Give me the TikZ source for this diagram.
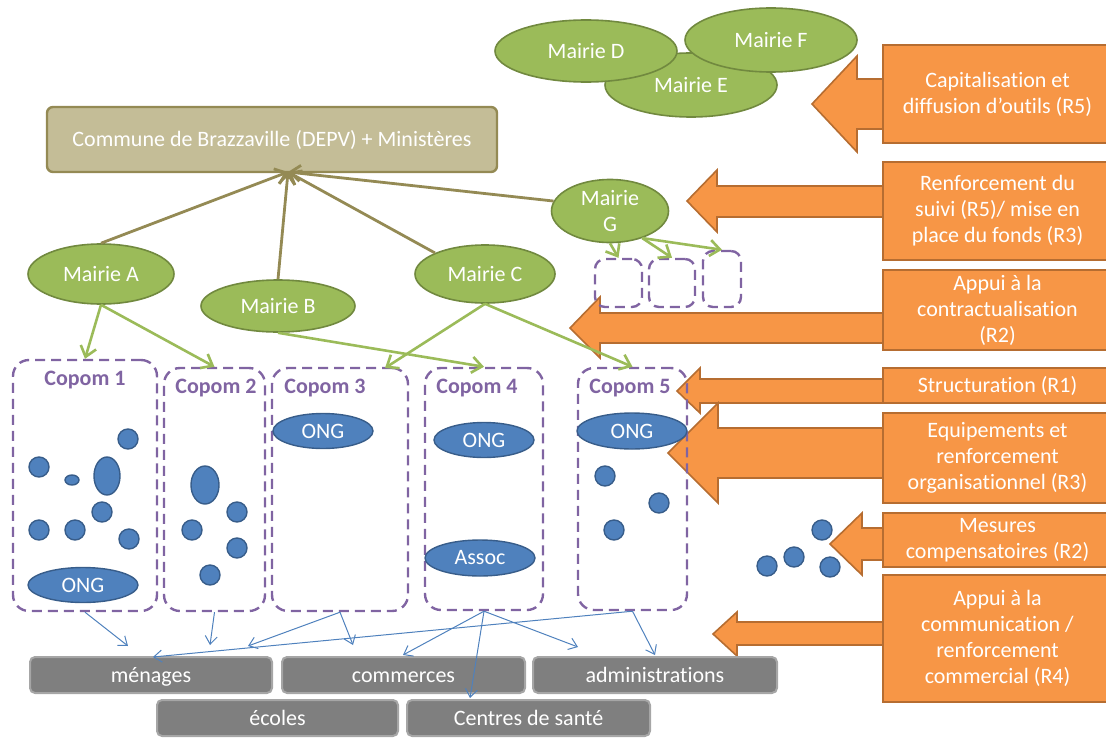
\documentclass[tikz,border=0pt]{standalone}
\usepackage{fontspec}
\setmainfont{Carlito}[Ligatures={TeX,NoCommon}]
\usepackage{xcolor}
\usetikzlibrary{shapes,arrows.meta,positioning,calc}

\definecolor{mairiegreen}{HTML}{9BBB59}
\definecolor{mairieline}{HTML}{71893F}
\definecolor{communefill}{HTML}{C4BD97}
\definecolor{communeline}{HTML}{948A54}
\definecolor{copompurple}{HTML}{8064A2}
\definecolor{blobblue}{HTML}{4F81BD}
\definecolor{blobline}{HTML}{385D8A}
\definecolor{actorgrey}{HTML}{7F7F7F}
\definecolor{actorline}{HTML}{A6A6A6}
\definecolor{actionorange}{HTML}{F79646}
\definecolor{actionline}{HTML}{B66D31}

\begin{document}
\begin{tikzpicture}[x=0.5pt, y=-0.5pt, font=\fontsize{11}{13}\selectfont,
    mairie/.style={ellipse, draw=mairieline, line width=0.8pt, fill=mairiegreen, text=white, inner sep=0pt, align=center},
    copom/.style={draw=copompurple, line width=1.2pt, dash pattern=on 5pt off 3pt, rounded corners=8pt, inner sep=0pt},
    copomlabel/.style={text=copompurple, font=\fontsize{11}{13}\selectfont\bfseries},
    blob/.style={ellipse, draw=blobline, line width=0.7pt, fill=blobblue, inner sep=0pt, text=white},
    actor/.style={draw=actorline, line width=1pt, fill=actorgrey, rounded corners=2.5pt, text=white, inner sep=0pt, minimum height=18pt, text height=1.8ex, text depth=0.3ex},
    action/.style={draw=actionline, line width=0.8pt, fill=actionorange, text=white, align=center, inner sep=0pt, minimum width=114.5pt},
    blockarrow/.style={draw=actionline, line width=0.8pt, fill=actionorange},
    greenarrow/.style={-{Straight Barb[length=5pt,width=8pt]}, mairiegreen, line width=1.3pt},
    brownarrow/.style={-{Straight Barb[length=5pt,width=8pt]}, communeline, line width=1.4pt},
    bluearrow/.style={-{Straight Barb[length=4pt,width=6pt]}, blobblue, line width=0.5pt}]
    \useasboundingbox (0,0) rectangle (1106,738);

    % Actions (block arrows)
    \draw[blockarrow] (812,104) -- (857,56) -- (857,79) -- (890,79) -- (890,129) -- (857,129) -- (857,152) -- cycle;
    \draw[blockarrow] (687,201) -- (717,170) -- (717,186) -- (890,186) -- (890,217) -- (717,217) -- (717,232) -- cycle;
    \draw[blockarrow] (570,328) -- (600,297) -- (600,313) -- (890,313) -- (890,343) -- (600,343) -- (600,358) -- cycle;
    \draw[blockarrow] (677,391) -- (700,368) -- (700,379) -- (890,379) -- (890,403) -- (700,403) -- (700,413) -- cycle;
    \draw[blockarrow] (668,453) -- (718,403) -- (718,428) -- (890,428) -- (890,478) -- (718,478) -- (718,503) -- cycle;
    \draw[blockarrow] (830,544) -- (862,513) -- (862,528) -- (890,528) -- (890,560) -- (862,560) -- (862,575) -- cycle;
    \draw[blockarrow] (713,634) -- (737,612) -- (737,622) -- (890,622) -- (890,645) -- (737,645) -- (737,656) -- cycle;

    \node[action, minimum height=49pt] (r5) at (997.5,94) {Capitalisation et\\diffusion d’outils (R5)};
    \node[action, minimum height=49pt] (suivi) at (997.5,211) {Renforcement du\\suivi (R5)/ mise en\\place du fonds (R3)};
    \node[action, minimum height=40pt] (contrat) at (997.5,310) {Appui à la\\contractualisation\\(R2)};
    \node[action, minimum height=17.5pt] (struct) at (997.5,385.5) {Structuration (R1)};
    \node[action, minimum height=45pt] (equip) at (997.5,458) {Equipements et\\renforcement\\organisationnel (R3)};
    \node[action, minimum height=27pt] (mesures) at (997.5,540) {Mesures\\compensatoires (R2)};
    \node[action, minimum height=63.5pt] (comm) at (997.5,638.5) {Appui à la\\communication /\\renforcement\\commercial (R4)};

    % Commune
    \node[draw=communeline, line width=1.2pt, fill=communefill, rounded corners=3pt, text=white, minimum width=225pt, minimum height=32.5pt] (commune) at (272,139.5) {Commune de Brazzaville (DEPV) + Ministères};
    \coordinate (hub) at (288,172);

    % Mairies
    \node[mairie, minimum width=86pt, minimum height=32pt] (mE) at (691,85) {Mairie E};
    \node[mairie, minimum width=91pt, minimum height=31pt] (mD) at (586,51) {Mairie D};
    \node[mairie, minimum width=86pt, minimum height=32pt] (mF) at (771,40) {Mairie F};
    \node[mairie, minimum width=73pt, minimum height=30pt] (mA) at (101,274) {Mairie A};
    \node[mairie, minimum width=77pt, minimum height=26pt] (mB) at (278,306) {Mairie B};
    \node[mairie, minimum width=70pt, minimum height=29pt] (mC) at (485,274) {Mairie C};
    \node[mairie, minimum width=58.5pt, minimum height=31.5pt] (mG) at (610,211) {Mairie\\G};

    \draw[brownarrow] (mA.north) -- (hub);
    \draw[brownarrow] (mB.north) -- (hub);
    \draw[brownarrow] (mC.north west) -- (hub);
    \draw[brownarrow] (mG.170) -- (hub);

    % Copoms
    \node[copom, minimum width=72pt, minimum height=125.5pt] (c1) at (85,485.5) {};
    \node[copom, minimum width=50.5pt, minimum height=121.5pt] (c2) at (214.5,489.5) {};
    \node[copom, minimum width=68pt, minimum height=121.5pt] (c3) at (340,489.5) {};
    \node[copom, minimum width=59pt, minimum height=121pt] (c4) at (484,489) {};
    \node[copom, minimum width=54.5pt, minimum height=121pt] (c5) at (632.5,489) {};
    \node[copomlabel] (l1) at (85,380) {Copom 1};
    \node[copomlabel] (l2) at (216,388) {Copom 2};
    \node[copomlabel] (l3) at (325,388) {Copom 3};
    \node[copomlabel] (l4) at (477,388) {Copom 4};
    \node[copomlabel] (l5) at (630,388) {Copom 5};

    % small copoms of Mairie G
    \node[copom, rounded corners=5pt, minimum width=23.5pt, minimum height=24pt] (g1) at (618.5,283) {};
    \node[copom, rounded corners=5pt, minimum width=23pt, minimum height=24pt] (g2) at (672,283) {};
    \node[copom, rounded corners=5pt, minimum width=19pt, minimum height=28pt] (g3) at (722,279) {};

    % Members
    \node[blob, minimum size=10pt] (p11) at (128,439) {};
    \node[blob, minimum size=10pt] (p12) at (39,467) {};
    \node[blob, minimum width=7pt, minimum height=5pt] (p13) at (72,480) {};
    \node[blob, minimum width=13pt, minimum height=19pt] (p14) at (107,476) {};
    \node[blob, minimum size=10pt] (p15) at (102,512) {};
    \node[blob, minimum size=10pt] (p16) at (39,530) {};
    \node[blob, minimum size=10pt] (p17) at (75,530) {};
    \node[blob, minimum size=10pt] (p18) at (129,539) {};
    \node[blob, minimum width=55pt, minimum height=17.5pt] (ong1) at (83,585) {ONG};

    \node[blob, minimum width=14pt, minimum height=19pt] (p21) at (205,485) {};
    \node[blob, minimum size=10pt] (p22) at (237,512) {};
    \node[blob, minimum size=10pt] (p23) at (192,530) {};
    \node[blob, minimum size=10pt] (p24) at (237,548) {};
    \node[blob, minimum size=10pt] (p25) at (210,575) {};

    \node[blob, minimum width=50pt, minimum height=17.5pt] (ong3) at (323,431) {ONG};
    \node[blob, minimum width=50pt, minimum height=17.5pt] (ong4) at (484,440) {ONG};
    \node[blob, minimum width=55pt, minimum height=18pt] (assoc) at (480,558) {Assoc};

    \node[blob, minimum width=55pt, minimum height=18pt] (ong5) at (632,431) {ONG};
    \node[blob, minimum size=10pt] (p51) at (605,476) {};
    \node[blob, minimum size=10pt] (p52) at (659,503) {};
    \node[blob, minimum size=10pt] (p53) at (614,530) {};

    \node[blob, minimum size=10pt] (q1) at (767,566) {};
    \node[blob, minimum size=10pt] (q2) at (794,557) {};
    \node[blob, minimum size=10pt] (q3) at (822,530) {};
    \node[blob, minimum size=10pt] (q4) at (830,567) {};

    % Mairies to Copoms
    \coordinate (c3in) at (385,368);
    \draw[greenarrow] (mA.south) -- (c1.north);
    \draw[greenarrow] (mA.south) -- (c2.north);
    \draw[greenarrow] (mB.south) -- (c4.north);
    \draw[greenarrow] (mC.south) -- (c3in);
    \draw[greenarrow] (mC.south) -- (c5.north);
    \draw[greenarrow] (mG.south) -- (g1.north);
    \draw[greenarrow] (mG.-40) -- (g2.north);
    \draw[greenarrow] (mG.-40) -- (g3.north);

    % Beneficiaries
    \node[actor, minimum width=121pt] (menages) at (151,675) {ménages};
    \node[actor, minimum width=121.5pt] (commerces) at (403.5,675) {commerces};
    \node[actor, minimum width=122pt] (admin) at (655,675) {administrations};
    \node[actor, minimum width=120.5pt] (ecoles) at (277.5,718) {écoles};
    \node[actor, minimum width=121.5pt] (sante) at (528.5,718) {Centres de santé};

    % Copoms to beneficiaries
    \coordinate (e1) at (128,646);
    \coordinate (e2) at (210,645);
    \coordinate (e3) at (248,646);
    \coordinate (e4) at (353,645);
    \coordinate (e5) at (153,657);
    \coordinate (e6) at (655,655);
    \coordinate (e7) at (403,655);
    \coordinate (e8) at (578,647);
    \coordinate (e9) at (470,698);
    \draw[bluearrow] (c1.south) -- (e1);
    \draw[bluearrow] (c2.south) -- (e2);
    \draw[bluearrow] (c3.south) -- (e3);
    \draw[bluearrow] (c3.south) -- (e4);
    \draw[bluearrow] (c5.south) -- (e5);
    \draw[bluearrow] (c5.south) -- (e6);
    \draw[bluearrow] (c4.south) -- (e7);
    \draw[bluearrow] (c4.south) -- (e8);
    \draw[bluearrow] (c4.south) -- (e9);
\end{tikzpicture}
\end{document}
